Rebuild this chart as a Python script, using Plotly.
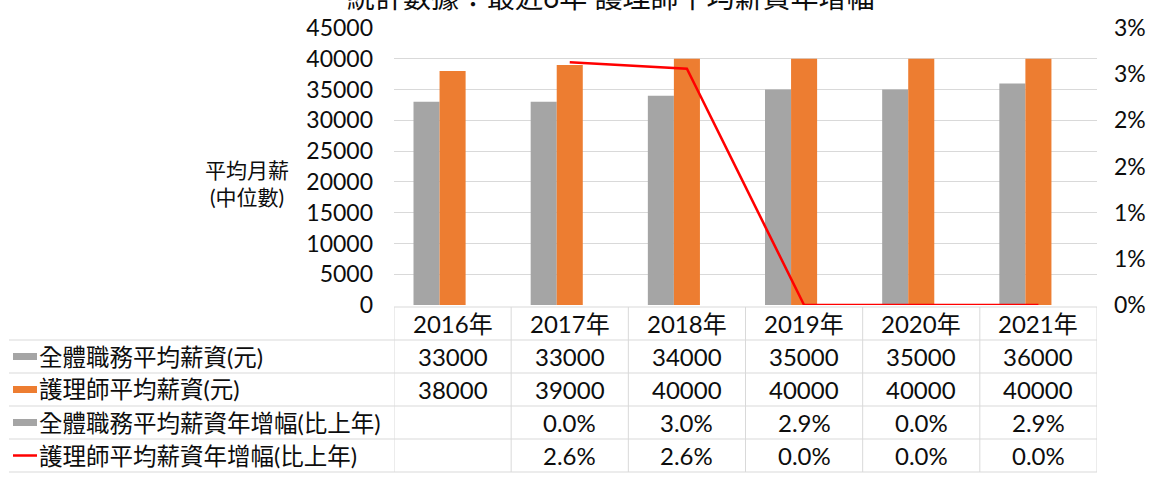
import plotly.graph_objects as go

# ---------------- data ----------------
years = ["2016年", "2017年", "2018年", "2019年", "2020年", "2021年"]
all_salary = [33000, 33000, 34000, 35000, 35000, 36000]
nurse_salary = [38000, 39000, 40000, 40000, 40000, 40000]
all_growth = [None, 0.0, 0.0303, 0.0294, 0.0, 0.0286]
nurse_growth = [None, 0.0263, 0.0256, 0.0, 0.0, 0.0]

series_names = ["全體職務平均薪資(元)", "護理師平均薪資(元)",
                "全體職務平均薪資年增幅(比上年)", "護理師平均薪資年增幅(比上年)"]
left_ticks = [0, 5000, 10000, 15000, 20000, 25000, 30000, 35000, 40000, 45000]
right_tickvals = [0, 0.005, 0.01, 0.015, 0.02, 0.025, 0.03]
right_ticktext = ["0%", "1%", "1%", "2%", "2%", "3%", "3%"]
y_title = "平均月薪<br>(中位數)"
title_text = "統計數據：最近6年 護理師平均薪資年增幅"

# ---------------- styles ----------------
GRAY = "#A5A5A5"
ORANGE = "#ED7D31"
RED = "#FF0000"
GRID = "#D9D9D9"
TXT = "#0d0d0d"
FONT = "Lato, 'Noto Sans CJK TC', sans-serif"

W, H = 1150, 477
L, R, T, B = 394, 53, 28, 172
PH = H - T - B
PW = W - L - R


def yp(pix):
    return (H - B - pix) / PH


def xp(pix):
    return (pix - L) / PW


fig = go.Figure()
fig.add_trace(go.Bar(x=years, y=all_salary, name=series_names[0],
                     marker=dict(color=GRAY, line_width=0)))
fig.add_trace(go.Bar(x=years, y=nurse_salary, name=series_names[1],
                     marker=dict(color=ORANGE, line_width=0)))
fig.add_trace(go.Bar(x=years, y=all_growth, name=series_names[2],
                     marker=dict(color=GRAY, line_width=0)))
fig.add_trace(go.Scatter(x=years, y=nurse_growth, name=series_names[3], yaxis="y2",
                         mode="lines", line=dict(color=RED, width=2.5),
                         connectgaps=False))

shapes = []
annotations = []

# table geometry (pixels)
row_top = 307
row_h = 33
n_rows = 1 + len(series_names)
bounds = [row_top + i * row_h for i in range(n_rows + 1)]
left_px = 9

# header top border over year columns
shapes.append(dict(type="line", xref="x", yref="paper", x0=-0.5, x1=len(years) - 0.5,
                   y0=yp(bounds[0]), y1=yp(bounds[0]), line=dict(color=GRID, width=1)))
# row borders across full width
for b in bounds[1:]:
    shapes.append(dict(type="line", xref="paper", yref="paper", x0=xp(left_px), x1=1,
                       y0=yp(b), y1=yp(b), line=dict(color=GRID, width=1)))
# vertical borders at category boundaries
for i in range(len(years) + 1):
    shapes.append(dict(type="line", xref="x", yref="paper", x0=i - 0.5, x1=i - 0.5,
                       y0=yp(bounds[0]), y1=yp(bounds[-1]), line=dict(color=GRID, width=1)))

CELL_FONT = dict(size=24, color=TXT)
LABEL_FONT = dict(size=23.5, color=TXT)

# header text
for yr in years:
    annotations.append(dict(xref="x", yref="paper", x=yr, y=yp(bounds[0] + row_h / 2),
                            text=yr, showarrow=False, xanchor="center", yanchor="middle",
                            font=CELL_FONT))


def pct(v):
    return "" if v is None else f"{v * 100:.1f}%"


rows = [
    [str(v) for v in all_salary],
    [str(v) for v in nurse_salary],
    [pct(v) for v in all_growth],
    [pct(v) for v in nurse_growth],
]
key_styles = [("rect", GRAY), ("rect", ORANGE), ("rect", GRAY), ("line", RED)]

for r, (name, vals) in enumerate(zip(series_names, rows)):
    cy = bounds[r + 1] + row_h / 2
    annotations.append(dict(xref="paper", yref="paper", x=xp(37), y=yp(cy), text=name,
                            showarrow=False, xanchor="left", yanchor="middle",
                            font=LABEL_FONT))
    kind, col = key_styles[r]
    if kind == "rect":
        shapes.append(dict(type="rect", xref="paper", yref="paper", x0=xp(13), x1=xp(37),
                           y0=yp(cy + 3.5), y1=yp(cy - 3.5), fillcolor=col, line_width=0))
    else:
        shapes.append(dict(type="line", xref="paper", yref="paper", x0=xp(13), x1=xp(37),
                           y0=yp(cy), y1=yp(cy), line=dict(color=col, width=2.5)))
    for yr, t in zip(years, vals):
        if t:
            annotations.append(dict(xref="x", yref="paper", x=yr, y=yp(cy), text=t,
                                    showarrow=False, xanchor="center", yanchor="middle",
                                    font=CELL_FONT))

# y-axis title
annotations.append(dict(xref="paper", yref="paper", x=xp(247), y=yp(183), text=y_title,
                        showarrow=False, xanchor="center", yanchor="middle", align="center",
                        font=dict(size=21, color=TXT)))
# clipped title at top (as in the reference)
annotations.append(dict(xref="paper", yref="paper", x=xp(610), y=yp(-3), text=title_text,
                        showarrow=False, xanchor="center", yanchor="middle",
                        font=dict(size=28, color=TXT)))

fig.update_layout(
    width=W, height=H,
    margin=dict(l=L, r=R, t=T, b=B, pad=0, autoexpand=False),
    paper_bgcolor="white", plot_bgcolor="white",
    font=dict(family=FONT, color=TXT),
    showlegend=False,
    barmode="group", bargap=0.333, bargroupgap=0,
    xaxis=dict(type="category", range=[-0.5, len(years) - 0.5], showticklabels=False,
               showgrid=False, zeroline=False, showline=False, ticks="", automargin=False),
    yaxis=dict(range=[0, 45000], tickvals=left_ticks, tickformat="d", showgrid=True,
               gridcolor=GRID, gridwidth=1, zeroline=False, showline=False, ticks="",
               tickfont=dict(size=23, color=TXT), ticklabelstandoff=20, automargin=False),
    yaxis2=dict(overlaying="y", side="right", range=[0, 0.03], tickvals=right_tickvals,
                ticktext=right_ticktext, showgrid=False, zeroline=False, showline=False,
                ticks="", tickfont=dict(size=23, color=TXT), ticklabelstandoff=16,
                automargin=False),
    shapes=shapes,
    annotations=annotations,
)

fig.write_html(
    "out.html",
    config={"displayModeBar": False},
    post_script="document.body.style.margin='0px';document.body.style.overflow='hidden';",
)
